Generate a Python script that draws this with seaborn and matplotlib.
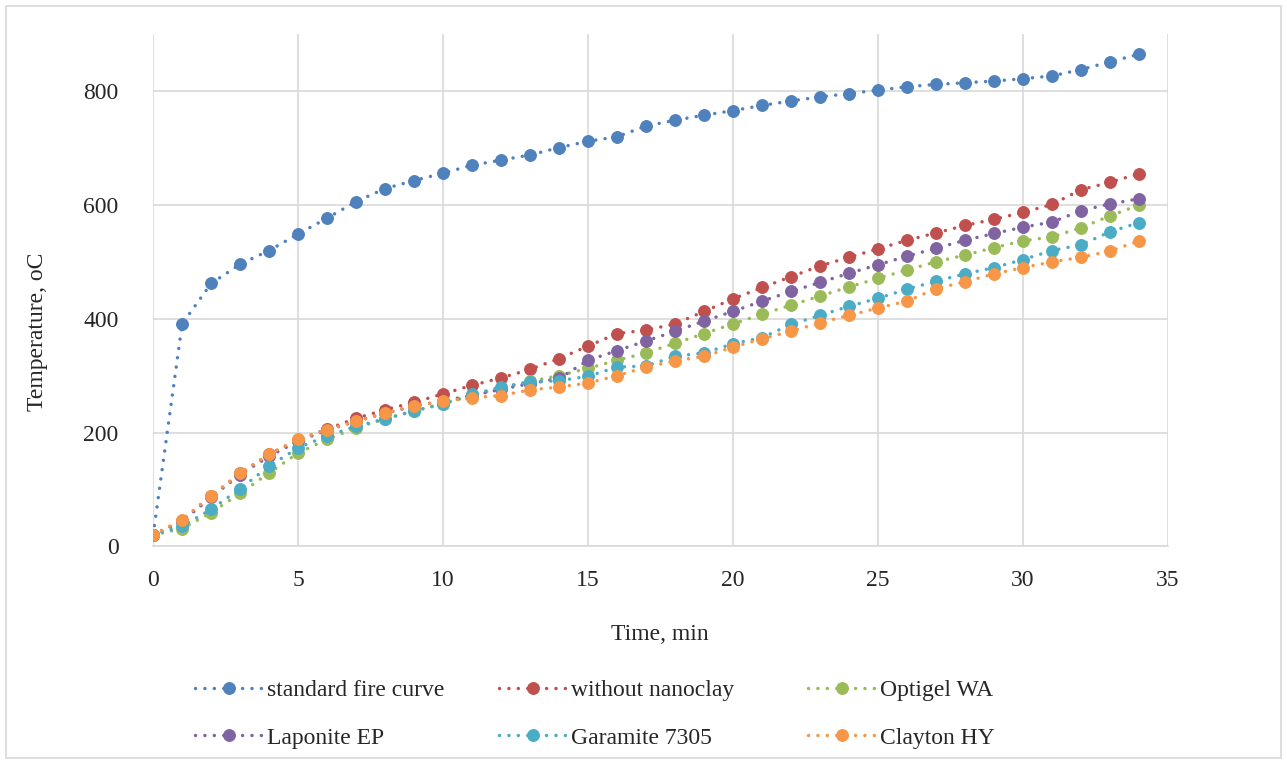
import pandas as pd
import seaborn as sns
import matplotlib.pyplot as plt
from matplotlib.patches import Rectangle

# time axis, minutes
time_min = list(range(35))

standard_fire = [20, 391, 462, 496, 520, 549, 577, 606, 629, 643, 656, 670, 679, 688, 701,
                 712, 720, 739, 749, 758, 766, 775, 783, 790, 796, 802, 808, 812, 815, 818,
                 822, 827, 838, 852, 865]
without_nanoclay = [20, 45, 88, 128, 162, 187, 206, 225, 240, 253, 268, 283, 296, 311, 330,
                    352, 374, 380, 391, 413, 435, 455, 474, 493, 508, 523, 538, 551, 564, 575,
                    587, 601, 627, 640, 655]
optigel_wa = [20, 31, 59, 93, 129, 164, 188, 208, 224, 238, 251, 265, 278, 290, 300,
              313, 327, 340, 357, 374, 391, 408, 424, 440, 456, 471, 486, 500, 512, 525,
              537, 544, 560, 581, 600]
laponite_ep = [20, 44, 86, 126, 158, 185, 204, 220, 234, 246, 256, 265, 276, 286, 295,
               327, 344, 361, 378, 396, 413, 431, 448, 464, 480, 495, 510, 524, 538, 550,
               561, 570, 590, 602, 611]
garamite_7305 = [20, 35, 65, 101, 141, 173, 194, 211, 224, 238, 250, 267, 280, 289, 291,
                 299, 315, 317, 334, 340, 356, 367, 390, 406, 422, 436, 452, 466, 479, 490,
                 504, 520, 530, 553, 569]
clayton_hy = [20, 47, 89, 128, 162, 188, 205, 220, 234, 247, 255, 261, 265, 275, 280,
              287, 300, 315, 326, 334, 350, 365, 378, 393, 406, 419, 431, 453, 465, 479,
              490, 500, 508, 519, 537]

names = ["standard fire curve", "without nanoclay", "Optigel WA",
         "Laponite EP", "Garamite 7305", "Clayton HY"]
series = [standard_fire, without_nanoclay, optigel_wa, laponite_ep, garamite_7305, clayton_hy]
colors = ["#4F81BD", "#C0504D", "#9BBB59", "#8064A2", "#4BACC6", "#F79646"]

df = pd.DataFrame({
    "time": time_min * len(names),
    "temp": [v for s in series for v in s],
    "name": [n for n in names for _ in time_min],
})

sns.set_style("white")
plt.rcParams['font.family'] = ['Liberation Serif', 'DejaVu Serif']
fs = 17

fig = plt.figure(figsize=(12.87, 7.64), dpi=100)
ax = fig.add_axes([0.119, 0.285, 0.7886, 0.670])

handles = {}
for name, col in zip(names, colors):
    sub = df[df["name"] == name]
    sns.lineplot(data=sub, x="time", y="temp", ax=ax, color=col, marker="o",
                 markersize=8.5, markeredgecolor=col, linestyle=(0, (0.01, 2.7)),
                 linewidth=2.5, dash_capstyle="round", label=name, legend=False)
    handles[name] = ax.lines[-1]

ax.set_xlim(0, 35)
ax.set_ylim(0, 900)
ax.set_xticks(range(0, 36, 5))
ax.set_yticks(range(0, 801, 200))
ax.grid(True, color="#D9D9D9", linewidth=1.2)
ax.set_axisbelow(True)
for s in ["top", "right", "left"]:
    ax.spines[s].set_visible(False)
ax.spines["bottom"].set_color("#D9D9D9")
ax.spines["bottom"].set_linewidth(1.2)
ax.tick_params(length=0, labelsize=fs)
ax.tick_params(axis="x", pad=17)
ax.tick_params(axis="y", pad=25)
ax.set_xlabel("")
ax.set_ylabel("")

fig.text(660 / 1287, 1 - 634 / 764, "Time, min", ha="center", va="center", fontsize=fs)
fig.text(38 / 1287, 1 - 332 / 764, "Temperature, oC", ha="center", va="center",
         rotation=90, fontsize=fs)

# legend: three columns of two rows
cols = [(names[0], names[3]), (names[1], names[4]), (names[2], names[5])]
xs = [195 / 1287, 499 / 1287, 808 / 1287]
for (a, b), x0 in zip(cols, xs):
    leg = fig.legend([handles[a], handles[b]], [a, b], loc="center left",
                     bbox_to_anchor=(x0, 1 - 714 / 764), frameon=False,
                     fontsize=fs, handlelength=2.9, handletextpad=0.15,
                     labelspacing=1.1, borderpad=0, borderaxespad=0, numpoints=1)

fig.patches.append(Rectangle((0.005, 0.008), 0.99, 0.984, transform=fig.transFigure,
                             fill=False, edgecolor="#D9D9D9", linewidth=1.2))

fig.savefig("out.png", dpi=100)
